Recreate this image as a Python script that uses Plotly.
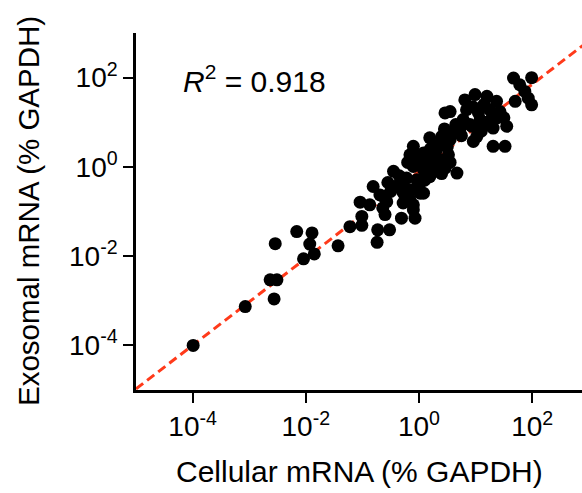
import numpy as np
import plotly.graph_objects as go

# log10 values
cell_log10 = [
    -3.99, -3.07, -2.56, -2.63, -2.51, -2.54, -2.16, -2.04, -1.89, -1.93, -1.85,
    -1.43, -1.22, -0.74, -0.73, -0.52, -1.04, -1.01, -1.01, -0.81, -0.87, -0.69,
    -0.57, -0.60, -0.64, -0.31, -0.07, -0.42, -0.28, -0.16, -0.10, 0.02,
    1.67, 1.99, 1.78, 1.87, 1.93, 1.99, 1.70, 0.99, 1.20, 0.81, 1.37, 0.55, 0.46,
    0.84, 1.05, 1.25, 1.43, 0.78, 1.08, 0.93, 1.14, 1.31, 1.55, 1.37, 0.72, 1.02,
    1.31, 1.52, 0.96, 0.19, 0.40, 0.55, 0.61, -0.10, -0.16, 0.08, 0.31, 0.52,
    -0.01, 0.17, 0.37, -0.10, 0.08, 0.25, 0.46, 0.67, -0.45, -0.22, -0.04, 0.19,
    -0.40, -0.16, 0.08, -0.63, -0.28, -0.10,
    0.35, 0.10, 0.30, -0.30, 0.00, 0.50, 0.90, 1.20, 0.65, -0.50, -0.20,
    0.45, 0.75, 1.10, 0.20, -0.05, 0.25, 0.55, 0.40, -0.35, -0.55, 0.10, 1.30,
    1.50, 0.95, 1.15,
]
exo_log10 = [
    -4.00, -3.13, -2.96, -2.53, -2.53, -1.72, -1.45, -2.06, -1.48, -1.73, -1.95,
    -1.77, -1.34, -1.69, -1.41, -1.41, -0.79, -1.11, -1.31, -0.44, -0.85, -0.63,
    -0.78, -1.07, -0.92, -1.15, -1.15, -0.44, -0.58, -0.74, -0.96, -0.59,
    1.99, 2.00, 1.84, 1.69, 1.54, 1.39, 1.47, 1.62, 1.58, 1.50, 1.47, 1.24, 1.21,
    1.28, 1.21, 1.28, 1.24, 1.06, 1.06, 0.91, 0.91, 0.87, 0.91, 1.09, 0.83, 0.68,
    0.46, 0.46, 0.57, 0.65, 0.68, 0.61, 0.79, 0.46, 0.27, 0.31, 0.38, 0.27,
    0.12, 0.12, 0.16, 0.01, -0.07, 0.01, -0.03, -0.14, -0.10, -0.25, -0.29, -0.22,
    -0.44, -0.51, -0.59, -0.66, -0.81, -0.85,
    0.50, 0.00, -0.10, -0.35, -0.45, 0.45, 0.95, 1.00, 0.95, -0.55, 0.10,
    0.85, 0.70, 0.80, 0.40, 0.25, 0.25, 0.10, -0.15, -0.20, -0.35, -0.30, 1.15,
    1.10, 1.35, 1.40,
]
cellular = np.power(10.0, cell_log10)
exosomal = np.power(10.0, exo_log10)

fit_slope = 0.975
fit_intercept = -0.1
fit_x_log10 = [-5.0, 3.0]
fit_x = np.power(10.0, fit_x_log10)
fit_y = np.power(10.0, fit_intercept + fit_slope * np.array(fit_x_log10))

tick_vals = [1e-4, 1e-2, 1e0, 1e2]
tick_text = ["10<sup>-4</sup>", "10<sup>-2</sup>", "10<sup>0</sup>", "10<sup>2</sup>"]

FONT = "Liberation Sans, Arial, sans-serif"

fig = go.Figure()
fig.add_trace(go.Scatter(
    x=fit_x, y=fit_y, mode="lines",
    line=dict(color="#ff3a1a", width=3, dash="9px,5px"),
    hoverinfo="skip", showlegend=False,
))
fig.add_trace(go.Scatter(
    x=cellular, y=exosomal, mode="markers",
    marker=dict(color="black", size=13, line=dict(width=0)),
    showlegend=False,
))

axis_common = dict(
    type="log", showgrid=False, zeroline=False, showline=True,
    linecolor="black", linewidth=2.5, ticks="outside", ticklen=10,
    tickwidth=2, tickcolor="black", tickvals=tick_vals, ticktext=tick_text,
    tickfont=dict(family=FONT, size=28, color="black"), automargin=False,
)
fig.update_xaxes(range=[-5, 2.88], **axis_common)
fig.update_yaxes(range=[-5, 3], **axis_common)

fig.add_annotation(
    text="Cellular mRNA (% GAPDH)", xref="paper", yref="paper", x=0.5, y=0,
    xanchor="center", yanchor="middle", yshift=-81.5, showarrow=False,
    font=dict(family=FONT, size=30, color="black"),
)
fig.add_annotation(
    text="Exosomal mRNA (% GAPDH)", xref="paper", yref="paper", x=0, y=0.5,
    xanchor="center", yanchor="middle", xshift=-107.5, textangle=-90,
    showarrow=False, font=dict(family=FONT, size=29.5, color="black"),
)
fig.add_annotation(
    text="<i>R</i><sup>2</sup> = 0.918", xref="paper", yref="paper",
    x=0.2646, y=0.871, xanchor="center", yanchor="middle", showarrow=False,
    font=dict(family=FONT, size=30, color="black"),
)

fig.update_layout(
    width=582, height=493,
    margin=dict(l=136, r=0, t=33, b=103, autoexpand=False),
    plot_bgcolor="white", paper_bgcolor="white",
)
fig.write_html(
    "out.html",
    config={"displayModeBar": False},
    post_script="document.body.style.margin='0';document.body.style.overflow='hidden';",
)
